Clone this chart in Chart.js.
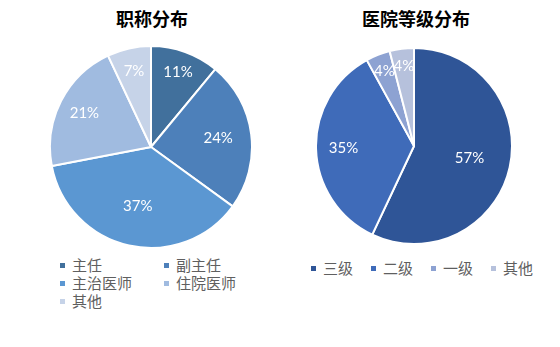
<!DOCTYPE html>
<html>
<head>
<meta charset="utf-8">
<script src="https://cdn.jsdelivr.net/npm/chart.js@4"></script>
<style>
  html, body { margin: 0; padding: 0; background: #fff; }
  #wrap { position: relative; width: 560px; height: 347px; overflow: hidden; font-family: "Noto Sans CJK SC", sans-serif; }
  .title { position: absolute; top: 5px; font-size: 18px; font-weight: bold; color: #000; text-align: center; transform: translateX(-50%); white-space: nowrap; }
  .pie { position: absolute; }
  .legend { position: absolute; font-size: 15px; color: #5f5f5f; line-height: 18px; }
  .legend .item { display: flex; align-items: center; white-space: nowrap; }
  .legend .box { width: 5px; height: 5px; margin-right: 7px; flex: none; }
  #legendL { left: 60px; top: 256px; display: grid; grid-template-columns: 104px 110px; row-gap: 0px; }
  #legendR { left: 311px; top: 259px; display: flex; gap: 0; }
  #legendR .item { width: 60px; }
</style>
</head>
<body>
<div id="wrap">
  <div class="title" style="left:152px">职称分布</div>
  <div class="title" style="left:416px">医院等级分布</div>
  <div class="pie" style="left:49px; top:45px; width:204px; height:204px"><canvas id="pieL"></canvas></div>
  <div class="pie" style="left:315px; top:47px; width:198px; height:198px"><canvas id="pieR"></canvas></div>
  <div class="legend" id="legendL"></div>
  <div class="legend" id="legendR"></div>
</div>
<script>
// 职称分布
const titleLabels = ['主任', '副主任', '主治医师', '住院医师', '其他'];
const titleValues = [11, 24, 37, 21, 7];
const titleColors = ['#41709c', '#4d80ba', '#5b97d2', '#a0bbe0', '#c6d3e8'];
const titleLabelPos = [0.79, 0.67, 0.6, 0.74, 0.77];

// 医院等级分布
const gradeLabels = ['三级', '二级', '一级', '其他'];
const gradeValues = [57, 35, 4, 4];
const gradeColors = ['#2f5597', '#3f6bb9', '#8da2d2', '#b6c1dc'];
const gradeLabelPos = [0.58, 0.72, 0.82, 0.82];

// percent text inside each slice
const sliceLabels = {
  id: 'sliceLabels',
  afterDatasetsDraw(chart, args, opts) {
    const ctx = chart.ctx;
    const meta = chart.getDatasetMeta(0);
    const values = chart.data.datasets[0].data;
    ctx.save();
    ctx.font = '15px Lato, "Open Sans", sans-serif';
    ctx.fillStyle = '#ffffff';
    ctx.textAlign = 'center';
    ctx.textBaseline = 'middle';
    meta.data.forEach((arc, i) => {
      const p = arc.getProps(['x', 'y', 'startAngle', 'endAngle', 'outerRadius'], true);
      const mid = (p.startAngle + p.endAngle) / 2;
      const r = p.outerRadius * opts.pos[i];
      ctx.fillText(values[i] + '%', p.x + Math.cos(mid) * r, p.y + Math.sin(mid) * r);
    });
    ctx.restore();
  }
};

function makePie(id, labels, values, colors, pos) {
  return new Chart(document.getElementById(id), {
    type: 'pie',
    data: {
      labels: labels,
      datasets: [{
        data: values,
        backgroundColor: colors,
        borderColor: '#ffffff',
        borderWidth: 2
      }]
    },
    options: {
      responsive: true,
      maintainAspectRatio: false,
      animation: false,
      layout: { padding: 0 },
      plugins: {
        legend: { display: false },
        tooltip: { enabled: false },
        sliceLabels: { pos: pos }
      }
    },
    plugins: [sliceLabels]
  });
}

function makeLegend(el, labels, colors) {
  labels.forEach((l, i) => {
    const item = document.createElement('div');
    item.className = 'item';
    const box = document.createElement('span');
    box.className = 'box';
    box.style.background = colors[i];
    const txt = document.createElement('span');
    txt.textContent = l;
    item.appendChild(box);
    item.appendChild(txt);
    el.appendChild(item);
  });
}

makePie('pieL', titleLabels, titleValues, titleColors, titleLabelPos);
makePie('pieR', gradeLabels, gradeValues, gradeColors, gradeLabelPos);
makeLegend(document.getElementById('legendL'), titleLabels, titleColors);
makeLegend(document.getElementById('legendR'), gradeLabels, gradeColors);
</script>
</body>
</html>
